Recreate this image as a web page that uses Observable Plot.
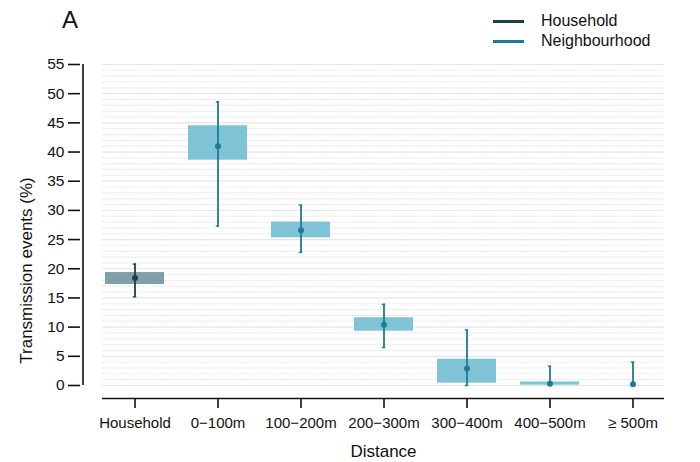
<!DOCTYPE html>
<html>
<head>
<meta charset="utf-8">
<script src="https://cdn.jsdelivr.net/npm/d3@7"></script>
<script src="https://cdn.jsdelivr.net/npm/@observablehq/plot@0.6"></script>
<style>
  body { margin: 0; background: #fff; font-family: "Liberation Sans", Arial, sans-serif; }
  #wrap { position: relative; width: 700px; height: 462px; }
  #panel { position: absolute; left: 62px; top: 6px; font-size: 24px; color: #111; }
  #legend { position: absolute; left: 493px; top: 11px; font-size: 16px; color: #111; }
  #legend .row { display: flex; align-items: center; height: 20px; }
  #legend .sw { display: inline-block; width: 31px; height: 3px; margin-right: 17px; }
</style>
</head>
<body>
<div id="wrap">
  <div id="panel">A</div>
  <div id="legend"></div>
</div>
<script>
const categories = ["Household", "0\u2212100m", "100\u2212200m", "200\u2212300m", "300\u2212400m", "400\u2212500m", "\u2265 500m"];
const groups     = ["Household", "Neighbourhood", "Neighbourhood", "Neighbourhood", "Neighbourhood", "Neighbourhood", "Neighbourhood"];
const estimate   = [18.4, 41.0, 26.6, 10.4, 2.9, 0.3, 0.2];
const ciLow      = [15.2, 27.3, 22.8, 6.5, 0.0, 0.3, 0.2];
const ciHigh     = [20.8, 48.6, 30.9, 13.9, 9.5, 3.3, 4.0];
const boxLow     = [17.3, 38.6, 25.3, 9.3, 0.4, 0.05, 0];
const boxHigh    = [19.35, 44.5, 28.0, 11.6, 4.5, 0.6, 0];
const yTicks     = [0, 5, 10, 15, 20, 25, 30, 35, 40, 45, 50, 55];
const gridMinor  = d3.range(0, 56, 1);

const lineColor = {Household: "#1d4049", Neighbourhood: "#1f7a93"};
const boxColor  = {Household: "#7f9fab", Neighbourhood: "#7fc4d6"};

const data = categories.map((c, i) => ({
  cat: c, group: groups[i], est: estimate[i], lo: ciLow[i], hi: ciHigh[i], b0: boxLow[i], b1: boxHigh[i]
}));
const boxes = data.filter(d => d.b1 > d.b0);
const yMin = -2.23;

const chart = Plot.plot({
  width: 700,
  height: 462,
  marginTop: 64,
  marginBottom: 64,
  marginLeft: 102,
  marginRight: 36,
  style: {fontFamily: "Liberation Sans, Arial, sans-serif", fontSize: "15px", color: "#111", background: "transparent"},
  x: {domain: categories, paddingInner: 0.295, paddingOuter: 0.005, label: null, axis: null},
  y: {domain: [yMin, 55], axis: null},
  marks: [
    // grid
    Plot.ruleY(gridMinor.filter(v => v % 5 !== 0), {y: d => d, stroke: "#dcdcdc", strokeWidth: 0.8, strokeDasharray: "1.5,1"}),
    Plot.ruleY(yTicks, {y: d => d, stroke: "#e6e6e6", strokeWidth: 1.2}),
    // boxes
    Plot.barY(boxes, {x: "cat", y1: "b0", y2: "b1", fill: d => boxColor[d.group]}),
    // error bars
    Plot.ruleX(data, {x: "cat", y1: "lo", y2: "hi", stroke: d => lineColor[d.group], strokeWidth: 1.8}),
    Plot.tickY(data, {x: "cat", y: "hi", stroke: d => lineColor[d.group], strokeWidth: 1.4, insetLeft: 27.8, insetRight: 27.8}),
    Plot.tickY(data, {x: "cat", y: "lo", stroke: d => lineColor[d.group], strokeWidth: 1.4, insetLeft: 27.8, insetRight: 27.8}),
    Plot.dot(data, {x: "cat", y: "est", r: 3, fill: d => lineColor[d.group], stroke: "none"}),
    // x axis line
    Plot.ruleY([yMin], {stroke: "#111", strokeWidth: 1.6}),
    Plot.axisX({tickSize: 10, tickPadding: 9, stroke: "#111", strokeWidth: 1.6, fontSize: 15, label: null}),
    // y axis (offset to the left)
    Plot.ruleX([categories[0]], {x: d => d, y1: 0, y2: 55, dx: -52, stroke: "#111", strokeWidth: 1.6}),
    Plot.axisY({ticks: yTicks, tickSize: 12, tickPadding: 4, dx: -22, stroke: "#111", strokeWidth: 1.6, fontSize: 15.5, label: null, tickFormat: d => d}),
    // axis titles
    Plot.text(["Distance"], {frameAnchor: "bottom", dy: 58, fontSize: 17, fill: "#111"}),
    Plot.text(["Transmission events (%)"], {frameAnchor: "left", textAnchor: "middle", rotate: -90, dx: -76, dy: 39, fontSize: 17, fill: "#111"})
  ]
});
document.getElementById("wrap").prepend(chart);

const legend = document.getElementById("legend");
["Household", "Neighbourhood"].forEach(g => {
  const row = document.createElement("div");
  row.className = "row";
  const sw = document.createElement("span");
  sw.className = "sw";
  sw.style.background = lineColor[g];
  const lab = document.createElement("span");
  lab.textContent = g;
  row.append(sw, lab);
  legend.append(row);
});
</script>
</body>
</html>
